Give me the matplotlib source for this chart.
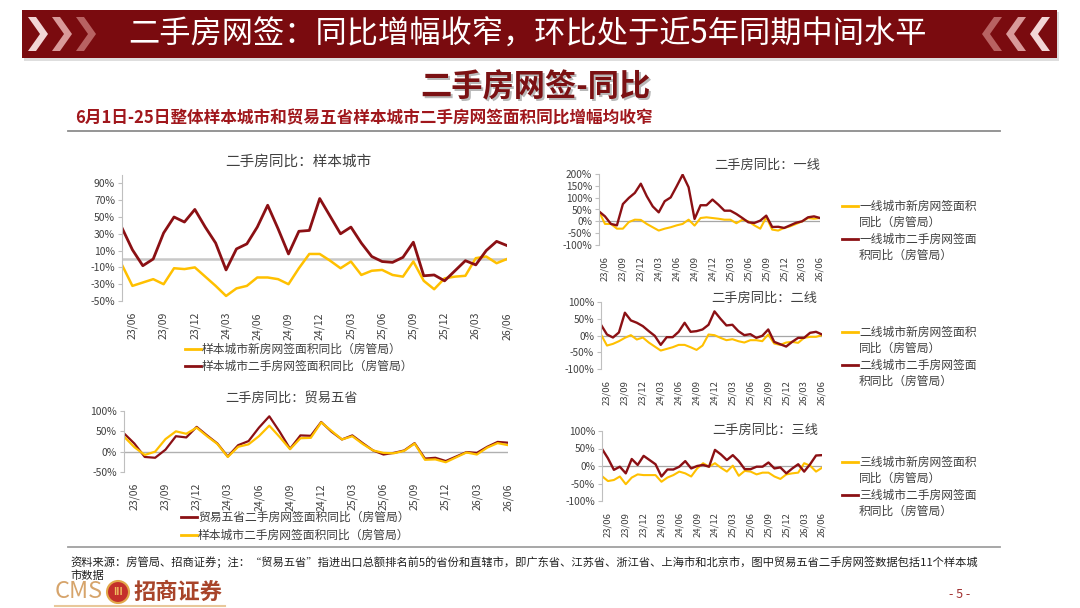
import matplotlib
matplotlib.use('Agg')
import numpy as np
import pandas as pd
import matplotlib.pyplot as plt
from matplotlib.lines import Line2D
from matplotlib.patches import Rectangle, Polygon, Ellipse

plt.rcParams['font.family'] = ['Noto Sans CJK SC', 'DejaVu Sans']

# monthly categories 23/05 .. 26/06, labels every quarter
months = pd.period_range('2023-05', '2026-06', freq='M').strftime('%y/%m').tolist()
tick_months = ['23/06', '23/09', '23/12', '24/03', '24/06', '24/09', '24/12',
               '25/03', '25/06', '25/09', '25/12', '26/03', '26/06']

# YoY growth, %
sample_new = [-7, -32, -28, -24, -30, -11, -12, -10, -21, -32, -44, -35, -32, -22, -22, -24, -30, -11, 6,
              6, -2, -11, -3, -19, -14, -13, -19, -21, -3, -26, -36, -23, -21, -20, 1, 3, -5, 0]
sample_2nd = [37, 11, -8, 0, 31, 50, 44, 59, 38, 19, -13, 12, 18, 38, 64, 36, 6, 33, 34,
              72, 51, 30, 38, 19, 3, -3, -4, 2, 20, -20, -19, -26, -14, -2, -7, 10, 21, 16]
trade_2nd = [45, 20, -13, -15, 5, 38, 35, 61, 40, 20, -12, 16, 26, 59, 87, 49, 7, 40, 39,
             73, 49, 30, 40, 21, 3, -7, -3, 3, 21, -17, -15, -23, -12, -1, -3, 12, 24, 22]
tier1_new = [42, -11, -11, -31, -31, -3, 7, 6, -11, -25, -39, -31, -25, -17, -11, 7, -18, 14, 17,
             14, 11, 7, 7, -8, 7, 0, -17, -31, 17, -35, -39, -28, -21, -11, 0, 14, 11, 14]
tier1_2nd = [42, 21, -11, -17, 73, 99, 120, 159, 106, 63, 38, 85, 101, 148, 197, 144, 10, 68, 68,
             92, 70, 45, 45, 31, 14, -4, -7, 3, 24, -24, -23, -28, -17, -6, 0, 17, 21, 14]
tier2_new = [3, -30, -25, -17, -7, 1, -12, -6, -21, -33, -45, -40, -35, -28, -28, -35, -43, -30, 3,
             1, -7, -14, -11, -17, -21, -14, -14, -17, 3, -24, -28, -21, -19, -22, -7, -4, -4, 1]
tier2_2nd = [32, 3, -6, 9, 68, 45, 38, 28, 13, -1, -28, -5, -5, 11, 38, 11, 13, 18, 32,
             72, 50, 30, 32, 13, 1, 4, -7, -1, 18, -19, -26, -33, -19, -7, -7, 8, 11, 3]
tier3_new = [-29, -43, -40, -30, -52, -33, -24, -26, -26, -26, -45, -33, -26, -16, -21, -30, -7, 8, -2,
             8, -5, -16, 1, -28, -14, -16, -24, -19, -19, -30, -37, -24, -21, -19, 8, 1, -16, -5]
tier3_2nd = [49, 22, -11, -2, -21, 20, 3, 29, 17, 5, -30, -10, -10, -2, 14, -7, 0, 3, -2,
             46, 33, 17, 31, 14, -9, -9, -2, -2, 10, -7, -4, -21, -7, 5, -16, 5, 30, 31]

RED = '#8B1014'
YEL = '#FFC000'
GRAY = '#404040'

W, H = 1080, 608
fig = plt.figure(figsize=(W / 100, H / 100), dpi=100)


def fx(x):
    return x / W


def fy(y):
    return 1 - y / H


def px_poly(pts, **kw):
    return Polygon([(fx(a), fy(b)) for a, b in pts], closed=True, transform=fig.transFigure, **kw)


def hline(x0, x1, y, **kw):
    fig.add_artist(Line2D([fx(x0), fx(x1)], [fy(y), fy(y)], transform=fig.transFigure, **kw))


# ---- header banner
fig.add_artist(Rectangle((fx(24), fy(61)), fx(1059) - fx(24), fy(12) - fy(61),
                         transform=fig.transFigure, color='#c8c8c8', alpha=0.6, lw=0))
fig.add_artist(Rectangle((fx(22), fy(58)), fx(1057) - fx(22), fy(10) - fy(58),
                         transform=fig.transFigure, color='#7a0b0f', lw=0))
chev_cols = ['#f2d6d6', '#d99a9a', '#b86262']
for x0, c in zip([28, 52, 76], chev_cols):
    fig.add_artist(px_poly([(x0, 17), (x0 + 8, 17), (x0 + 20, 34), (x0 + 8, 51), (x0, 51), (x0 + 12, 34)],
                           color=c, lw=0))
for x0, c in zip([1050, 1026, 1002], chev_cols):
    fig.add_artist(px_poly([(x0, 17), (x0 - 8, 17), (x0 - 20, 34), (x0 - 8, 51), (x0, 51), (x0 - 12, 34)],
                           color=c, lw=0))
fig.text(fx(528), fy(35), '二手房网签：同比增幅收窄，环比处于近5年同期中间水平',
         color='white', fontsize=22.5, ha='center', va='center')

# ---- section titles
fig.text(fx(537), fy(89), '二手房网签-同比', color='#b8b8b8', fontsize=22.5,
         weight='bold', ha='center', va='center')
fig.text(fx(535), fy(87), '二手房网签-同比', color='#7b1113', fontsize=22.5,
         weight='bold', ha='center', va='center')
fig.text(fx(75), fy(118), '6月1日-25日整体样本城市和贸易五省样本城市二手房网签面积同比增幅均收窄',
         color='#a0171c', fontsize=12, weight='bold', ha='left', va='center')
hline(68, 1000, 131, color='#8c8c8c', lw=1.3)

x = np.arange(len(months))
tick_idx = [months.index(m) for m in tick_months]


def make_ax(box, ylim, yticks, ysize, xsize, zero_col, zero_lw):
    l, t, r, b = box
    ax = fig.add_axes([fx(l), fy(b), (r - l) / W, (b - t) / H])
    ax.set_xlim(0, len(months) - 1)
    ax.set_ylim(*ylim)
    ax.set_yticks(yticks)
    ax.set_yticklabels([f'{v}%' for v in yticks])
    ax.set_xticks(tick_idx)
    ax.set_xticklabels(tick_months, rotation=90)
    for s in ['top', 'right', 'bottom']:
        ax.spines[s].set_visible(False)
    ax.spines['left'].set_color('#BFBFBF')
    ax.tick_params(axis='y', length=3, color='#BFBFBF', labelsize=ysize, labelcolor=GRAY, pad=2)
    ax.tick_params(axis='x', length=0, labelsize=xsize, labelcolor=GRAY, pad=8)
    ax.axhline(0, color=zero_col, lw=zero_lw, zorder=1)
    ax.patch.set_alpha(0)
    return ax


def legend_item(x0, y, color, lines, size=8.5, step=16):
    hline(x0, x0 + 16, y, color=color, lw=2)
    for k, s in enumerate(lines):
        fig.text(fx(x0 + 17), fy(y + k * step), s, fontsize=size, color=GRAY, va='center', ha='left')


# ---- main: sample cities
ax = make_ax((122, 175, 507, 301), (-50, 100), list(range(-50, 91, 20)), 7.5, 7.5, '#C8C8C8', 1.8)
ax.plot(x, sample_new, color=YEL, lw=1.8)
ax.plot(x, sample_2nd, color=RED, lw=2.0)
fig.text(fx(298), fy(162), '二手房同比：样本城市', fontsize=10.5, color=GRAY, ha='center', va='center')
legend_item(185, 349, YEL, ['样本城市新房网签面积同比（房管局）'])
legend_item(185, 366, RED, ['样本城市二手房网签面积同比（房管局）'])

# ---- trade five provinces
ax = make_ax((124, 411, 508, 472), (-50, 100), [-50, 0, 50, 100], 7.5, 7.5, '#B0B0B0', 1.0)
ax.plot(x, trade_2nd, color=RED, lw=1.6)
ax.plot(x, sample_2nd, color=YEL, lw=1.6)
fig.text(fx(292), fy(398), '二手房同比：贸易五省', fontsize=9.5, color=GRAY, ha='center', va='center')
legend_item(181, 517, RED, ['贸易五省二手房网签面积同比（房管局）'])
legend_item(181, 535, YEL, ['样本城市二手房网签面积同比（房管局）'])

# ---- tiers
tiers = [
    ((599, 174, 820, 245), (-100, 200), list(range(-100, 201, 50)), tier1_new, tier1_2nd,
     '二手房同比：一线', (767, 165), 206, '一线'),
    ((601, 302, 822, 369), (-100, 100), list(range(-100, 101, 50)), tier2_new, tier2_2nd,
     '二手房同比：二线', (764, 298), 332, '二线'),
    ((602, 431, 822, 501), (-100, 100), list(range(-100, 101, 50)), tier3_new, tier3_2nd,
     '二手房同比：三线', (765, 430), 462, '三线'),
]
for box, ylim, yt, s_new, s_2nd, title, tpos, ly, name in tiers:
    ax = make_ax(box, ylim, yt, 7.3, 6.8, '#A6A6A6', 0.9)
    ax.plot(x, s_new, color=YEL, lw=1.5)
    ax.plot(x, s_2nd, color=RED, lw=1.7)
    fig.text(fx(tpos[0]), fy(tpos[1]), title, fontsize=9.5, color=GRAY, ha='center', va='center')
    legend_item(842, ly, YEL, [name + '城市新房网签面积', '同比（房管局）'])
    legend_item(842, ly + 33, RED, [name + '城市二手房网签面', '积同比（房管局）'])

# ---- footer
hline(68, 1000, 547, color='#a0a0a0', lw=1.3)
fig.text(fx(70), fy(562), '资料来源：房管局、招商证券；注：“贸易五省”指进出口总额排名前5的省份和直辖市，'
         '即广东省、江苏省、浙江省、上海市和北京市，图中贸易五省二手房网签数据包括11个样本城',
         fontsize=8.1, color='#202020', va='center', ha='left')
fig.text(fx(70), fy(576), '市数据', fontsize=8.1, color='#202020', va='center', ha='left')

fig.text(fx(55), fy(592), 'CMS', fontsize=17, color='#d6a46b', va='center', ha='left')
fig.add_artist(Ellipse((fx(118), fy(592)), 22 / W, 22 / H, transform=fig.transFigure,
                       facecolor='#c4302b', edgecolor='#e2a84a', lw=1.5))
fig.text(fx(118), fy(592), 'III', fontsize=7, color='#f0c060', weight='bold', ha='center', va='center')
fig.text(fx(133), fy(592), '招商证券', fontsize=16, color='#a8442a', weight='bold', va='center', ha='left')
hline(55, 225, 606, color='#e8c89a', lw=1.5)
fig.text(fx(960), fy(594), '- 5 -', fontsize=9, color='#a03030', ha='center', va='center')

fig.savefig('out.png', dpi=100)
